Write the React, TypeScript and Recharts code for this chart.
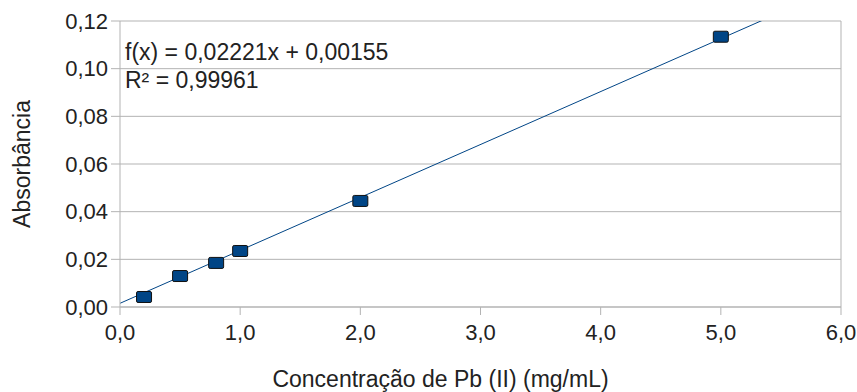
import React from "react";
import {
  ScatterChart,
  Scatter,
  XAxis,
  YAxis,
  CartesianGrid,
  ReferenceLine,
} from "recharts";

const concentrations = [0.2, 0.5, 0.8, 1.0, 2.0, 5.0];
const absorbances = [0.0042, 0.013, 0.0185, 0.0235, 0.0445, 0.1134];
const xTicks = [0, 1, 2, 3, 4, 5, 6];
const yTicks = [0, 0.02, 0.04, 0.06, 0.08, 0.1, 0.12];
const slope = 0.02221;
const intercept = 0.00155;
const equationText = "f(x) = 0,02221x + 0,00155";
const r2Text = "R² = 0,99961";

const data = concentrations.map((x, i) => ({ x, y: absorbances[i] }));

const FONT = "'Liberation Sans', Arial, sans-serif";
const BLUE = "#004586";
const GRID = "#b3b3b3";
const TEXT = "#222";

const SquareMarker = (props: any) => {
  const { cx, cy } = props;
  return (
    <rect
      x={cx - 7.5}
      y={cy - 5.5}
      width={15}
      height={11}
      rx={1.5}
      fill={BLUE}
      stroke="#111"
      strokeWidth={1}
    />
  );
};

export default function App() {
  const comma = (v: number, d: number) => v.toFixed(d).replace(".", ",");
  return (
    <div
      style={{
        position: "absolute",
        left: 0,
        top: 0,
        width: 857,
        height: 392,
        background: "#fff",
        fontFamily: FONT,
      }}
    >
      <ScatterChart
        width={857}
        height={392}
        margin={{ top: 21, right: 16, bottom: 0, left: 0 }}
      >
        <CartesianGrid vertical={false} stroke={GRID} strokeWidth={1} />
        <XAxis
          type="number"
          dataKey="x"
          domain={[0, 6]}
          ticks={xTicks}
          height={85}
          tickSize={8}
          tickFormatter={(v) => comma(v, 1)}
          tick={{ fontSize: 22, fill: TEXT, fontFamily: FONT, dy: 7 }}
          axisLine={{ stroke: GRID }}
          tickLine={{ stroke: GRID }}
          label={{
            value: "Concentração de Pb (II) (mg/mL)",
            position: "insideBottom",
            offset: 5,
            dx: -40,
            fontSize: 23,
            fill: TEXT,
            fontFamily: FONT,
          }}
        />
        <YAxis
          type="number"
          dataKey="y"
          domain={[0, 0.12]}
          ticks={yTicks}
          width={120}
          tickSize={9}
          tickFormatter={(v) => comma(v, 2)}
          tick={{ fontSize: 22, fill: TEXT, fontFamily: FONT, dx: -1 }}
          axisLine={{ stroke: GRID }}
          tickLine={{ stroke: GRID }}
          label={{
            value: "Absorbância",
            angle: -90,
            position: "insideLeft",
            offset: 22,
            fontSize: 23,
            fill: TEXT,
            fontFamily: FONT,
            style: { textAnchor: "middle" },
          }}
        />
        <ReferenceLine x={6} stroke={GRID} />
        <ReferenceLine
          segment={[
            { x: 0, y: intercept },
            { x: 6, y: intercept + slope * 6 },
          ]}
          stroke={BLUE}
          strokeWidth={1}
          ifOverflow="hidden"
        />
        <Scatter
          data={data}
          shape={<SquareMarker />}
          isAnimationActive={false}
        />
      </ScatterChart>
      <div
        style={{
          position: "absolute",
          left: 125,
          top: 38,
          fontSize: 23,
          lineHeight: "28px",
          color: TEXT,
          whiteSpace: "pre",
        }}
      >
        <div>{equationText}</div>
        <div>{r2Text}</div>
      </div>
    </div>
  );
}
